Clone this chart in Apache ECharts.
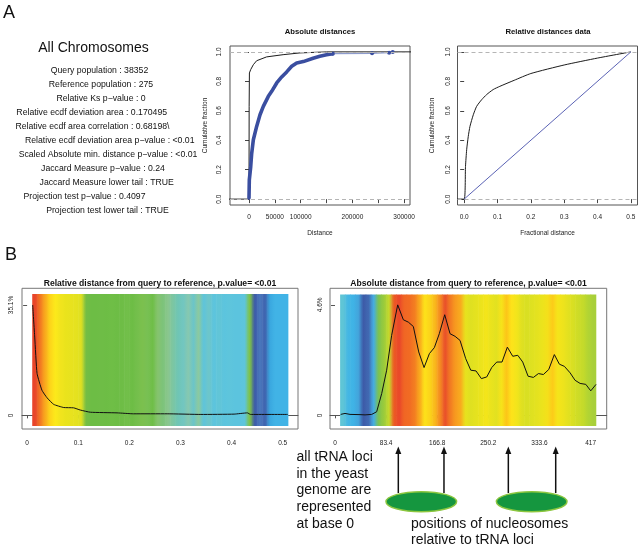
<!DOCTYPE html>
<html><head><meta charset="utf-8">
<script src="https://cdn.jsdelivr.net/npm/echarts@6/dist/echarts.min.js"></script>
<style>html,body{margin:0;padding:0;background:#fff}#c{width:642px;height:549px}</style>
</head><body><div id="c"></div>
<script>
const FONT = '"Liberation Sans", Arial, Helvetica, sans-serif';

// ---------- DATA ----------
const statsTitle = 'All Chromosomes';
const statsLines = [
  'Query population : 38352',
  'Reference population : 275',
  'Relative Ks p\u2212value : 0',
  'Relative ecdf deviation area : 0.170495',
  'Relative ecdf area correlation : 0.68198\\',
  'Relative ecdf deviation area p\u2212value : <0.01',
  'Scaled Absolute min. distance p\u2212value : <0.01',
  'Jaccard Measure p\u2212value : 0.24',
  'Jaccard Measure lower tail : TRUE',
  'Projection test p\u2212value : 0.4097',
  'Projection test lower tail : TRUE'
];

// Absolute distances ECDF (panel A middle)
const absQueryX = [-40000, 0, 100, 300, 800, 3300, 8400, 14800, 34000, 66000, 98600, 150000, 320000];
const absQueryY = [0, 0, 0.2, 0.63, 0.857, 0.88, 0.913, 0.94, 0.966, 0.981, 0.993, 1.0, 1.0];
const absRefX = [0, 600, 3300, 5200, 8400, 14800, 21300, 27700, 37400, 43900, 53600, 63200, 72900, 82600, 92300, 105000, 108000, 124000, 137000, 150000, 162000];
const absRefY = [0.007, 0.13, 0.22, 0.31, 0.403, 0.494, 0.573, 0.63, 0.698, 0.732, 0.789, 0.83, 0.864, 0.902, 0.925, 0.934, 0.936, 0.957, 0.970, 0.98, 0.988];
const absTailX = [162000, 238000, 271000, 278000];
const absTailY = [0.988, 0.99, 0.995, 1.0];
const absTickValues = [0, 50000, 100000, 150000, 200000, 250000, 300000];
const absLabelValues = [0, 50000, 100000, 200000, 300000];

// Relative distances ECDF (panel A right)
const relEcdfX = [-0.03, 0, 0.004, 0.0075, 0.0123, 0.0174, 0.0274, 0.0374, 0.0524, 0.0674, 0.087, 0.107, 0.15, 0.2, 0.3, 0.4, 0.5];
const relEcdfY = [0, 0, 0.222, 0.335, 0.426, 0.494, 0.573, 0.63, 0.675, 0.71, 0.744, 0.766, 0.807, 0.853, 0.911, 0.958, 1.0];
const relUniformX = [0, 0.5];
const relUniformY = [0, 1];
const relTickValues = [0, 0.1, 0.2, 0.3, 0.4, 0.5];
const cumTickValues = [0, 0.2, 0.4, 0.6, 0.8, 1.0];

// Panel B left: relative distance profile
const relProfileX = [0.0109, 0.0149, 0.0195, 0.029, 0.039, 0.052, 0.0716, 0.091, 0.104, 0.124, 0.176, 0.208, 0.274, 0.34, 0.405, 0.431, 0.437, 0.51];
const relProfileY = [35.1, 24.9, 13.3, 8.0, 5.6, 3.5, 2.5, 2.4, 1.7, 1.0, 0.8, 0.5, 0.5, 0.3, 0.4, 0.8, 0.3, 0.3];
const relHeatStart = 0.01, relHeatStep = 0.01;
const relHeatColors = [
  '#e8452a','#f27822','#f9ab1d','#fdd61a','#fce91b','#f1e41d','#eae31c','#e8e21e','#e5e21f','#dfe021',
  '#74bd44','#6dbd45','#6dbd45','#6ebd46','#6dbd45','#6fbe46','#6dbd45','#6ebd46','#72bf4a','#6dbd45',
  '#74bf4c','#7bc04e','#78c053','#6fbe48','#85c36e','#7cc37a','#8ac68e','#7bc6a3','#6fc5b5','#72c6c0',
  '#86c8b0','#6cc5c8','#8bc9a0','#5fc4da','#6ec6c9','#5cc4de','#62c5d6','#5cc4de','#5ec5dc','#5cc4de',
  '#5cc4de','#5ec5dc','#7fc247','#3c5aa8','#4a77bc','#3f63ae','#3aa8e0','#41b3e6','#41b3e6','#41b3e6'
];
const relYTicks = [0, 35.1];

// Panel B right: absolute distance profile
const absProfileX = [9.3,16.3,24.5,40.8,49,59.9,68,76.2,84.3,92.4,102.3,111.5,119.7,127.8,136.6,145.3,154,162.1,170.2,179,187.7,195.9,204,213.3,221.5,230.1,238.8,247.6,255.7,263.9,272.5,281.2,290,298.2,306.3,315,323.7,331.9,340,348.8,357.9,366.1,374.3,383.6,391.7,399.9,409.2,417.3,425.9];
const absProfileY = [0.04,0.08,0.04,0.03,0.02,0.04,0.15,0.91,1.88,3.33,4.6,3.98,3.88,3.70,2.64,1.99,2.57,2.82,3.40,4.19,3.40,3.29,3.12,2.36,1.88,1.85,1.53,1.60,1.99,2.22,2.22,2.84,2.46,2.50,2.22,1.63,1.58,1.74,1.70,1.91,2.53,2.13,2.04,1.77,1.46,1.33,1.29,1.02,1.29];
const absHeatStart = 8.34, absHeatStep = 8.34;
const absHeatColors = [
  '#5fc5d6','#44b6e4','#3fb3e6','#43a5dc','#3d5ba8','#4169b2','#45ade0','#7dc24f','#9acb3b','#c5d92c',
  '#ec5a24','#e9472a','#f06624','#f16b23','#f37d21','#f9a91d','#fde11a','#fbd41a','#f9b81c','#f48a21',
  '#e9502a','#f27b22','#f79a1f','#f8ab1e','#e7e21e','#dfe021','#e4e21f','#ece31c','#f4e51a','#e9e31d',
  '#e2e120','#f6e31a','#fcc618','#fde31a','#f2e51b','#dfe021','#d8df23','#dfe120','#e4e21f','#ece31c',
  '#f4e01a','#fccc19','#f5e41a','#eee31c','#e3e11f','#d8df23','#cddc27','#c4da2b','#b2d433','#a8cf3a'
];
const absXTicks = [0, 83.4, 166.8, 250.2, 333.6, 417];
const absYTicks = [0, 4.6];

// Annotation (nucleosome sketch)
const arrowPositions = [103.3, 177.8, 282.8, 360.1];
const nucleosomeCenters = [140.8, 320.9];
const tRNANote = ['all tRNA loci', 'in the yeast', 'genome are', 'represented', 'at base 0'];
const nucleosomeNote = ['positions of nucleosomes', 'relative to tRNA loci'];

// ---------- HELPERS ----------
const zip = (xs, ys) => xs.map((x, i) => [x, ys[i]]);
function hex(c){return [parseInt(c.slice(1,3),16),parseInt(c.slice(3,5),16),parseInt(c.slice(5,7),16)];}
function mix(a,b){const A=hex(a),B=hex(b);return 'rgb('+A.map((v,i)=>Math.round((v+B[i])/2)).join(',')+')';}

function heatSeries(xi, start, step, colors, yLo, yHi) {
  return {
    type: 'custom', xAxisIndex: xi, yAxisIndex: xi, silent: true, z: 1, clip: true,
    data: colors.map((c, i) => [start + i * step, i]),
    renderItem(params, api) {
      const i = api.value(1), x0 = api.value(0);
      const p0 = api.coord([x0, yHi]);
      const p1 = api.coord([x0 + step, yLo]);
      const prev = colors[Math.max(i - 1, 0)], cur = colors[i], next = colors[Math.min(i + 1, colors.length - 1)];
      return {
        type: 'rect',
        shape: { x: p0[0], y: p0[1], width: p1[0] - p0[0] + 0.6, height: p1[1] - p0[1] },
        style: { fill: new echarts.graphic.LinearGradient(0, 0, 1, 0, [
          { offset: 0, color: mix(prev, cur) }, { offset: 0.5, color: cur }, { offset: 1, color: mix(cur, next) }
        ]) }
      };
    }
  };
}

const tickLbl = { fontFamily: FONT, fontSize: 6.5, color: '#222' };
const dashLines = {
  silent: true, symbol: 'none', label: { show: false },
  lineStyle: { color: '#b5b5b5', type: [4, 3], width: 1 },
  data: [{ yAxis: 0 }, { yAxis: 1 }]
};
const plain = v => String(v);

const option = {
  animation: false,
  backgroundColor: '#fff',
  grid: [
    { left: 230, top: 46, width: 180, height: 159, show: true, borderColor: '#555', borderWidth: 1 },
    { left: 457.5, top: 46, width: 180, height: 159, show: true, borderColor: '#555', borderWidth: 1 },
    { left: 22, top: 288.3, width: 276, height: 140.7, show: true, borderColor: '#777', borderWidth: 1 },
    { left: 330, top: 288.3, width: 276.7, height: 140.7, show: true, borderColor: '#777', borderWidth: 1 }
  ],
  xAxis: [
    { gridIndex: 0, type: 'value', min: -36750, max: 311400, splitLine: { show: false },
      axisLine: { show: false },
      axisTick: { customValues: absTickValues, length: 4, lineStyle: { color: '#444' } },
      axisLabel: { customValues: absLabelValues, margin: 9, formatter: plain, ...tickLbl },
      name: 'Distance', nameLocation: 'middle', nameGap: 25, nameTextStyle: tickLbl },
    { gridIndex: 1, type: 'value', min: -0.02, max: 0.52, splitLine: { show: false },
      axisLine: { show: false },
      axisTick: { customValues: relTickValues, length: 4, lineStyle: { color: '#444' } },
      axisLabel: { customValues: relTickValues, margin: 9, formatter: v => v.toFixed(1), ...tickLbl },
      name: 'Fractional distance', nameLocation: 'middle', nameGap: 25, nameTextStyle: tickLbl },
    { gridIndex: 2, type: 'value', min: -0.01, max: 0.53, splitLine: { show: false }, offset: 4,
      axisLine: { show: true, lineStyle: { color: '#555' } },
      axisTick: { customValues: relTickValues, length: 3, lineStyle: { color: '#555' } },
      axisLabel: { customValues: relTickValues, margin: 7, formatter: v => (v === 0 ? '0' : String(+v.toFixed(1))), ...tickLbl } },
    { gridIndex: 3, type: 'value', min: -8.16, max: 443.3, splitLine: { show: false }, offset: 4,
      axisLine: { show: true, lineStyle: { color: '#555' } },
      axisTick: { customValues: absXTicks, length: 3, lineStyle: { color: '#555' } },
      axisLabel: { customValues: absXTicks, margin: 7, formatter: plain, ...tickLbl } }
  ],
  yAxis: [
    { gridIndex: 0, type: 'value', min: -0.04, max: 1.04, splitLine: { show: false },
      axisLine: { show: false },
      axisTick: { customValues: cumTickValues, length: 4, lineStyle: { color: '#444' } },
      axisLabel: { customValues: cumTickValues, rotate: 90, margin: 7, formatter: v => v.toFixed(1), ...tickLbl },
      name: 'Cumulative fraction', nameLocation: 'middle', nameGap: 21, nameTextStyle: tickLbl },
    { gridIndex: 1, type: 'value', min: -0.04, max: 1.04, splitLine: { show: false },
      axisLine: { show: false },
      axisTick: { customValues: cumTickValues, length: 4, lineStyle: { color: '#444' } },
      axisLabel: { customValues: cumTickValues, rotate: 90, margin: 6, formatter: v => v.toFixed(1), ...tickLbl },
      name: 'Cumulative fraction', nameLocation: 'middle', nameGap: 21.5, nameTextStyle: tickLbl },
    { gridIndex: 2, type: 'value', min: -4.33, max: 40.4, splitLine: { show: false },
      axisLine: { show: false },
      axisTick: { customValues: relYTicks, length: 4, lineStyle: { color: '#555' } },
      axisLabel: { customValues: relYTicks, rotate: 90, margin: 7, formatter: v => (v === 0 ? '0' : v + '%'), ...tickLbl } },
    { gridIndex: 3, type: 'value', min: -0.568, max: 5.29, splitLine: { show: false },
      axisLine: { show: false },
      axisTick: { customValues: absYTicks, length: 4, lineStyle: { color: '#555' } },
      axisLabel: { customValues: absYTicks, rotate: 90, margin: 6, formatter: v => (v === 0 ? '0' : v + '%'), ...tickLbl } }
  ],
  series: [
    { type: 'line', xAxisIndex: 0, yAxisIndex: 0, data: zip(absQueryX, absQueryY), showSymbol: false,
      lineStyle: { color: '#1c1c1c', width: 1 }, markLine: dashLines, z: 3 },
    { type: 'line', xAxisIndex: 0, yAxisIndex: 0, data: zip(absRefX, absRefY), showSymbol: false,
      lineStyle: { color: '#3a4ea0', width: 3.6, cap: 'round' }, z: 4 },
    { type: 'line', xAxisIndex: 0, yAxisIndex: 0, data: zip(absTailX, absTailY), showSymbol: true, symbol: 'circle', symbolSize: 4,
      itemStyle: { color: '#3a4ea0' }, lineStyle: { color: '#8e9ccd', width: 1.2 }, z: 4 },
    { type: 'line', xAxisIndex: 1, yAxisIndex: 1, data: zip(relEcdfX, relEcdfY), showSymbol: false, smooth: 0.2,
      lineStyle: { color: '#1c1c1c', width: 1 }, markLine: dashLines, z: 3 },
    { type: 'line', xAxisIndex: 1, yAxisIndex: 1, data: zip(relUniformX, relUniformY), showSymbol: false,
      lineStyle: { color: '#5b63b5', width: 1 }, z: 3 },
    heatSeries(2, relHeatStart, relHeatStep, relHeatColors, -3.38, 38.6),
    { type: 'line', xAxisIndex: 2, yAxisIndex: 2, data: zip(relProfileX, relProfileY), showSymbol: false, smooth: 0.15,
      lineStyle: { color: '#111', width: 1 }, z: 5 },
    heatSeries(3, absHeatStart, absHeatStep, absHeatColors, -0.443, 5.03),
    { type: 'line', xAxisIndex: 3, yAxisIndex: 3, data: zip(absProfileX, absProfileY), showSymbol: false,
      lineStyle: { color: '#111', width: 1 }, z: 5 }
  ]
};

const chart = echarts.init(document.getElementById('c'), null, { renderer: 'canvas', width: 642, height: 549 });
chart.setOption(option);

// ---------- free text & annotations ----------
const T = (x, y, text, size, opts = {}) => ({
  type: 'text', x, y, silent: true, z: 20,
  style: Object.assign({ text, fontFamily: FONT, fontSize: size, fill: '#111', align: 'center', verticalAlign: 'middle' }, opts)
});
const g = [];
g.push(T(3, 13.5, 'A', 18, { align: 'left' }));
g.push(T(5, 255.5, 'B', 18, { align: 'left' }));
g.push(T(93.5, 48, statsTitle, 14));
const statsCX = [99.5, 101, 101, 91.7, 92.5, 109.7, 108, 103, 106.7, 84.5, 107.5];
statsLines.forEach((s, i) => g.push(T(statsCX[i], 71 + i * 14, s, 8.7)));
g.push(T(320, 31.5, 'Absolute distances', 7.7, { fontWeight: 'bold' }));
g.push(T(548, 31.5, 'Relative distances data', 7.7, { fontWeight: 'bold' }));
g.push(T(160, 284, 'Relative distance from query to reference, p.value= <0.01', 8.6, { fontWeight: 'bold' }));
g.push(T(468.5, 284, 'Absolute distance from query to reference, p.value= <0.01', 8.6, { fontWeight: 'bold' }));

tRNANote.forEach((s, i) => g.push(T(296.5, 457 + i * 16.8, s, 14, { align: 'left' })));
nucleosomeNote.forEach((s, i) => g.push(T(411, 524 + i * 16.5, s, 14, { align: 'left' })));

const px = v => chart.convertToPixel({ xAxisIndex: 3 }, v);
arrowPositions.forEach(v => {
  const x = px(v);
  g.push({ type: 'line', silent: true, z: 20, shape: { x1: x, y1: 493, x2: x, y2: 453 }, style: { stroke: '#111', lineWidth: 1.5 } });
  g.push({ type: 'polygon', silent: true, z: 20, shape: { points: [[x, 446.5], [x - 3, 454], [x + 3, 454]] }, style: { fill: '#111' } });
});
nucleosomeCenters.forEach(v => {
  const x = px(v);
  g.push({ type: 'ellipse', silent: true, z: 21, shape: { cx: x, cy: 501.7, rx: 35.3, ry: 10 },
    style: { fill: '#15963f', stroke: '#8cc63f', lineWidth: 1.5 } });
});
chart.setOption({ graphic: g });
</script>
</body></html>
